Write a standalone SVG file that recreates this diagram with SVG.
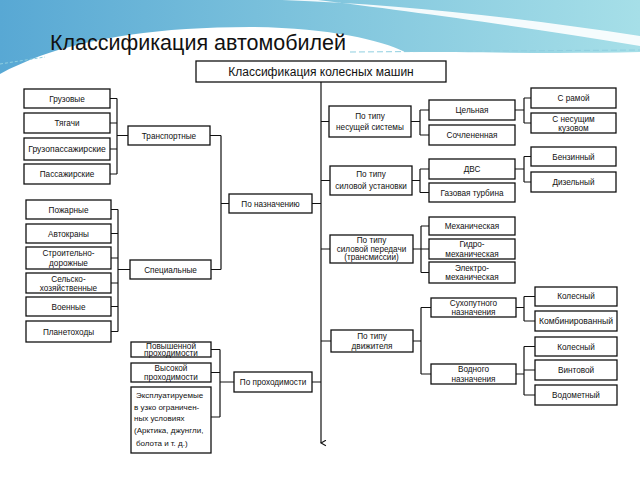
<svg xmlns="http://www.w3.org/2000/svg" width="640" height="480" viewBox="0 0 640 480">
<defs>
<linearGradient id="sky" x1="0" y1="0" x2="1" y2="0">
<stop offset="0" stop-color="#58a8d4"/>
<stop offset="0.45" stop-color="#7cc2dc"/>
<stop offset="1" stop-color="#a6dfe8"/>
</linearGradient>
<marker id="arr" viewBox="0 0 10 10" refX="5" refY="9" markerWidth="7" markerHeight="7" orient="auto-start-reverse" markerUnits="userSpaceOnUse">
<path d="M1,2 L5,9 L9,2" fill="none" stroke="#111" stroke-width="1.6"/>
</marker>
<style>
.b{fill:#fff;stroke:#111;stroke-width:1.3}
.t{font-family:"Liberation Sans",Arial,sans-serif;font-size:8.2px;text-anchor:middle;fill:#111}
.tl{font-family:"Liberation Sans",Arial,sans-serif;font-size:8px;fill:#111}
.c{stroke:#111;stroke-width:1.2;fill:none}
</style>
</defs>
<rect x="0" y="0" width="640" height="480" fill="#fff"/>
<path d="M0,0 H640 V52 C560,54 470,52 405,52 C380,40 330,28 250,27 C160,27 90,38 40,56 C25,62 12,67 0,74 Z" fill="url(#sky)"/>
<path d="M282,0 C400,4 520,18 640,36 L640,46 C520,26 400,10 318,0 Z" fill="#fff" opacity="0.9"/>
<line x1="350" y1="52" x2="640" y2="50" stroke="#8fcfe0" stroke-width="1" stroke-dasharray="6,3"/>
<line x1="0" y1="64" x2="45" y2="57" stroke="#8fcfe0" stroke-width="1" stroke-dasharray="3,2"/>
<text x="50" y="50" font-family="Liberation Sans,Arial,sans-serif" font-size="21.5" fill="#111">Классификация автомобилей</text>

<g id="connectors">
<path class="c" d="M321,82 V443" marker-end="url(#arr)"/>
<path class="c" d="M110,98.5 H117 M110,123 H117 M110,149 H117 M110,174 H117 M117,98.5 V174 M117,135.5 H128"/>
<path class="c" d="M111,209.5 H118 M111,233.5 H118 M111,258 H118 M111,283 H118 M111,306.5 H118 M111,331.5 H118 M118,209.5 V331.5 M118,269.5 H130"/>
<path class="c" d="M210,135.5 H221 M211,269.5 H221 M221,135.5 V269.5 M221,203.5 H229 M312,203.5 H321"/>
<path class="c" d="M211,349.5 H220 M211,372.5 H220 M211,417 H220 M220,349.5 V417 M220,382 H234 M312,382 H321"/>
<path class="c" d="M321,121.5 H329 M411,121.5 H420 M420,110 V135 M420,110 H429 M420,135 H429 M515,110 H524 M524,98 V123 M524,98 H531 M524,123 H531"/>
<path class="c" d="M321,180.5 H330 M412,180.5 H420 M420,169 V192.5 M420,169 H429 M420,192.5 H429 M515,169 H524 M524,156.5 V182 M524,156.5 H531 M524,182 H531"/>
<path class="c" d="M321,249 H330 M413,249 H421 M421,226 V272.5 M421,226 H429 M421,249 H429 M421,272.5 H429"/>
<path class="c" d="M321,341 H331 M413,341 H421 M421,307.5 V374 M421,307.5 H431 M421,374 H431 M516,307.5 H524 M524,296.5 V321 M524,296.5 H535 M524,321 H535 M516,374 H524 M524,346.5 V395 M524,346.5 H535 M524,370 H535 M524,395 H535"/>
</g>

<g id="root"><rect class="b" x="196" y="61" width="250" height="21"/><text class="t" x="321" y="76" style="font-size:12px">Классификация колесных машин</text></g>

<g id="gruz"><rect class="b" x="24" y="89" width="86" height="19"/><text class="t" x="67" y="101.5">Грузовые</text></g>
<g id="tyag"><rect class="b" x="24" y="113" width="86" height="20"/><text class="t" x="67" y="126">Тягачи</text></g>
<g id="gruzpass"><rect class="b" x="24" y="138" width="86" height="22"/><text class="t" x="67" y="152" style="font-size:8.6px">Грузопассажирские</text></g>
<g id="pass"><rect class="b" x="24" y="164" width="86" height="20"/><text class="t" x="67" y="177">Пассажирские</text></g>
<g id="transp"><rect class="b" x="128" y="126" width="82" height="19"/><text class="t" x="169" y="138.5">Транспортные</text></g>

<g id="pozh"><rect class="b" x="26" y="200" width="85" height="19"/><text class="t" x="68.5" y="212.5">Пожарные</text></g>
<g id="avtokr"><rect class="b" x="26" y="224" width="85" height="19"/><text class="t" x="68.5" y="236.5">Автокраны</text></g>
<g id="stroit"><rect class="b" x="26" y="247" width="85" height="22"/><text class="t" x="68.5" y="256">Строительно-</text><text class="t" x="68.5" y="266">дорожные</text></g>
<g id="selsk"><rect class="b" x="26" y="273" width="85" height="20"/><text class="t" x="68.5" y="281.5">Сельско-</text><text class="t" x="68.5" y="291">хозяйственные</text></g>
<g id="voen"><rect class="b" x="26" y="297" width="85" height="19"/><text class="t" x="68.5" y="309.5">Военные</text></g>
<g id="planet"><rect class="b" x="26" y="321" width="85" height="21"/><text class="t" x="68.5" y="334.5">Планетоходы</text></g>
<g id="spec"><rect class="b" x="130" y="260" width="81" height="19"/><text class="t" x="170.5" y="272.5">Специальные</text></g>

<g id="naznach"><rect class="b" x="229" y="194" width="83" height="19"/><text class="t" x="270.5" y="206.5">По назначению</text></g>

<g id="povysh"><rect class="b" x="131" y="342" width="80" height="15"/><text class="t" x="171" y="348.5">Повышенной</text><text class="t" x="171" y="356">проходимости</text></g>
<g id="vysok"><rect class="b" x="131" y="363" width="80" height="19"/><text class="t" x="171" y="371">Высокой</text><text class="t" x="171" y="380">проходимости</text></g>
<g id="ekspl"><rect class="b" x="131" y="387" width="80" height="66"/>
<text class="tl" x="136" y="398">Эксплуатируемые</text>
<text class="tl" x="134" y="409.5">в узко ограничен-</text>
<text class="tl" x="134" y="421">ных условиях</text>
<text class="tl" x="134" y="433">(Арктика, джунгли,</text>
<text class="tl" x="136" y="446">болота и т. д.)</text></g>
<g id="prohod"><rect class="b" x="234" y="372" width="78" height="20"/><text class="t" x="273" y="385">По проходимости</text></g>

<g id="nesush"><rect class="b" x="329" y="106" width="82" height="31"/><text class="t" x="370" y="119">По типу</text><text class="t" x="370" y="130">несущей системы</text></g>
<g id="celn"><rect class="b" x="429" y="100" width="86" height="20"/><text class="t" x="472" y="113">Цельная</text></g>
<g id="sochl"><rect class="b" x="429" y="125" width="86" height="20"/><text class="t" x="472" y="138">Сочлененная</text></g>
<g id="ramoy"><rect class="b" x="531" y="88" width="85" height="20"/><text class="t" x="573.5" y="101">С рамой</text></g>
<g id="kuzov"><rect class="b" x="531" y="113" width="85" height="20"/><text class="t" x="573.5" y="121.5">С несущим</text><text class="t" x="573.5" y="130.5">кузовом</text></g>

<g id="silust"><rect class="b" x="330" y="166" width="82" height="29"/><text class="t" x="371" y="177">По типу</text><text class="t" x="371" y="188.5">силовой установки</text></g>
<g id="dvs"><rect class="b" x="429" y="159" width="86" height="20"/><text class="t" x="472" y="172">ДВС</text></g>
<g id="turb"><rect class="b" x="429" y="183" width="86" height="19"/><text class="t" x="472" y="195.5">Газовая турбина</text></g>
<g id="benz"><rect class="b" x="531" y="147" width="85" height="19"/><text class="t" x="573.5" y="159.5">Бензинный</text></g>
<g id="dizel"><rect class="b" x="531" y="172" width="85" height="20"/><text class="t" x="573.5" y="185">Дизельный</text></g>

<g id="silper"><rect class="b" x="330" y="235" width="83" height="28"/><text class="t" x="371.5" y="243">По типу</text><text class="t" x="371.5" y="251.5">силовой передачи</text><text class="t" x="371.5" y="260">(трансмиссии)</text></g>
<g id="meh"><rect class="b" x="429" y="217" width="86" height="18"/><text class="t" x="472" y="229">Механическая</text></g>
<g id="gidro"><rect class="b" x="429" y="239" width="86" height="20"/><text class="t" x="472" y="247">Гидро-</text><text class="t" x="472" y="256.5">механическая</text></g>
<g id="elektro"><rect class="b" x="429" y="262" width="86" height="21"/><text class="t" x="472" y="270.5">Электро-</text><text class="t" x="472" y="280">механическая</text></g>

<g id="dvizh"><rect class="b" x="331" y="330" width="82" height="22"/><text class="t" x="372" y="338.5">По типу</text><text class="t" x="372" y="348.5">движителя</text></g>
<g id="suhop"><rect class="b" x="431" y="298" width="85" height="19"/><text class="t" x="473.5" y="305.5">Сухопутного</text><text class="t" x="473.5" y="314.5">назначения</text></g>
<g id="vodn"><rect class="b" x="431" y="364" width="85" height="20"/><text class="t" x="473.5" y="372">Водного</text><text class="t" x="473.5" y="381.5">назначения</text></g>
<g id="koles1"><rect class="b" x="535" y="287" width="82" height="19"/><text class="t" x="576" y="298.5">Колесный</text></g>
<g id="kombin"><rect class="b" x="535" y="311" width="82" height="20"/><text class="t" x="576" y="324" style="font-size:8.6px">Комбинированный</text></g>
<g id="koles2"><rect class="b" x="535" y="337" width="82" height="19"/><text class="t" x="576" y="349.5">Колесный</text></g>
<g id="vint"><rect class="b" x="535" y="360" width="82" height="20"/><text class="t" x="576" y="373">Винтовой</text></g>
<g id="vodomet"><rect class="b" x="535" y="385" width="82" height="20"/><text class="t" x="576" y="398">Водометный</text></g>
</svg>
